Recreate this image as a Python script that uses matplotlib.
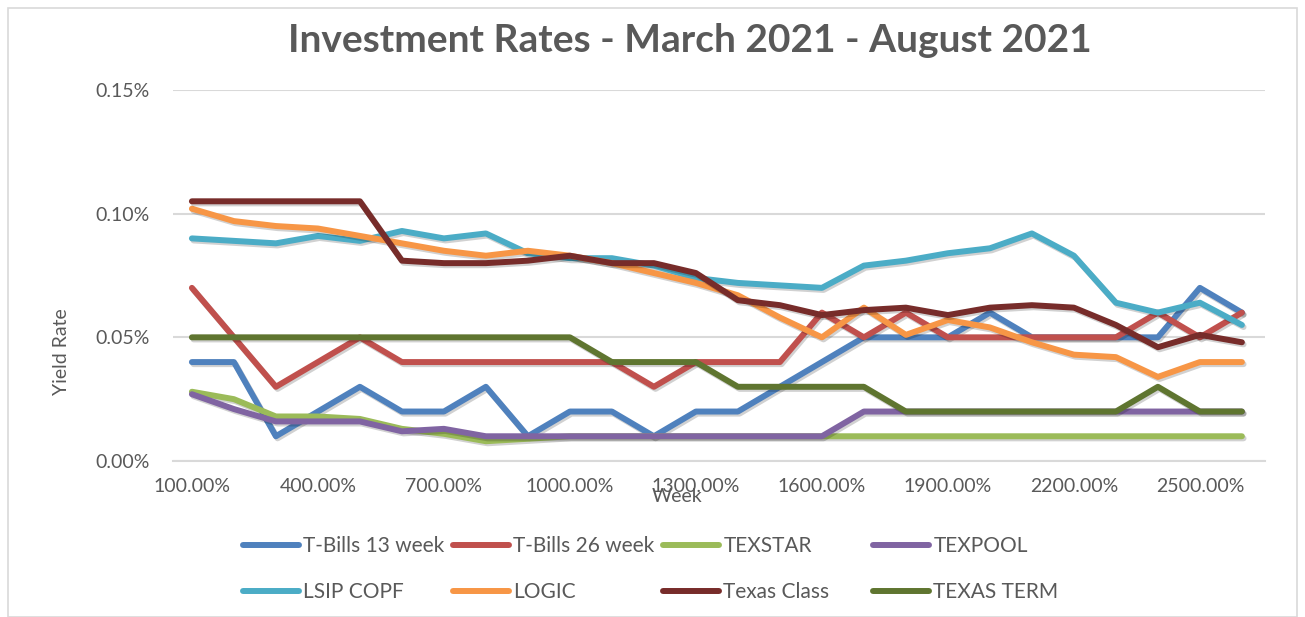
import matplotlib
matplotlib.use("Agg")
import matplotlib.pyplot as plt
from matplotlib.lines import Line2D
from matplotlib.patches import Rectangle
from matplotlib.ticker import FuncFormatter, FixedLocator
import matplotlib.patheffects as pe

plt.rcParams['font.family'] = ['Lato', 'DejaVu Sans']

weeks = list(range(1, 27))

tbills13 = [0.040, 0.040, 0.010, 0.020, 0.030, 0.020, 0.020, 0.030, 0.010, 0.020,
            0.020, 0.010, 0.020, 0.020, 0.030, 0.040, 0.050, 0.050, 0.050, 0.060,
            0.050, 0.050, 0.050, 0.050, 0.070, 0.060]
tbills26 = [0.070, 0.050, 0.030, 0.040, 0.050, 0.040, 0.040, 0.040, 0.040, 0.040,
            0.040, 0.030, 0.040, 0.040, 0.040, 0.060, 0.050, 0.060, 0.050, 0.050,
            0.050, 0.050, 0.050, 0.060, 0.050, 0.060]
texstar = [0.028, 0.025, 0.018, 0.018, 0.017, 0.013, 0.011, 0.008, 0.009, 0.010,
           0.010, 0.010, 0.010, 0.010, 0.010, 0.010, 0.010, 0.010, 0.010, 0.010,
           0.010, 0.010, 0.010, 0.010, 0.010, 0.010]
texpool = [0.027, 0.021, 0.016, 0.016, 0.016, 0.012, 0.013, 0.010, 0.010, 0.010,
           0.010, 0.010, 0.010, 0.010, 0.010, 0.010, 0.020, 0.020, 0.020, 0.020,
           0.020, 0.020, 0.020, 0.020, 0.020, 0.020]
lsip = [0.090, 0.089, 0.088, 0.091, 0.089, 0.093, 0.090, 0.092, 0.084, 0.082,
        0.082, 0.079, 0.074, 0.072, 0.071, 0.070, 0.079, 0.081, 0.084, 0.086,
        0.092, 0.083, 0.064, 0.060, 0.064, 0.055]
logic = [0.102, 0.097, 0.095, 0.094, 0.091, 0.088, 0.085, 0.083, 0.085, 0.083,
         0.080, 0.076, 0.072, 0.067, 0.058, 0.050, 0.062, 0.051, 0.057, 0.054,
         0.048, 0.043, 0.042, 0.034, 0.040, 0.040]
texas_class = [0.105, 0.105, 0.105, 0.105, 0.105, 0.081, 0.080, 0.080, 0.081, 0.083,
               0.080, 0.080, 0.076, 0.065, 0.063, 0.059, 0.061, 0.062, 0.059, 0.062,
               0.063, 0.062, 0.055, 0.046, 0.051, 0.048]
texas_term = [0.050, 0.050, 0.050, 0.050, 0.050, 0.050, 0.050, 0.050, 0.050, 0.050,
              0.040, 0.040, 0.040, 0.030, 0.030, 0.030, 0.030, 0.020, 0.020, 0.020,
              0.020, 0.020, 0.020, 0.030, 0.020, 0.020]

series_names = ["T-Bills 13 week", "T-Bills 26 week", "TEXSTAR", "TEXPOOL",
                "LSIP COPF", "LOGIC", "Texas Class", "TEXAS TERM"]
series_values = [tbills13, tbills26, texstar, texpool, lsip, logic, texas_class, texas_term]
colors = ["#4F81BD", "#C0504D", "#9BBB59", "#8064A2",
          "#4BACC6", "#F79646", "#772C2A", "#5F7530"]

title = "Investment Rates - March 2021 - August 2021"
y_ticks = [0.0, 0.05, 0.10, 0.15]
x_ticks = [1, 4, 7, 10, 13, 16, 19, 22, 25]

W, H = 1305, 617
fig = plt.figure(figsize=(W / 100, H / 100), dpi=100)
ax = fig.add_axes([173 / W, 1 - 461 / H, (1265 - 173) / W, (461 - 90) / H])

shadow = [pe.SimpleLineShadow(offset=(1.2, -1.5), shadow_color='black', alpha=0.18), pe.Normal()]
lw = 4.3
for name, vals, c in zip(series_names, series_values, colors):
    ax.plot(weeks, vals, color=c, lw=lw, solid_capstyle='round', solid_joinstyle='round',
            path_effects=shadow, zorder=3)

ax.set_xlim(0.55, 26.55)
ax.set_ylim(0, 0.15)
ax.yaxis.set_major_locator(FixedLocator(y_ticks))
ax.xaxis.set_major_locator(FixedLocator(x_ticks))
ax.yaxis.set_major_formatter(FuncFormatter(lambda v, p: f"{v:.2f}%"))
ax.xaxis.set_major_formatter(FuncFormatter(lambda v, p: f"{v * 100:.2f}%"))
ax.grid(axis='y', color='#D9D9D9', lw=1.5, zorder=0)
for s in ['top', 'right', 'left']:
    ax.spines[s].set_visible(False)
ax.spines['bottom'].set_color('#D9D9D9')
ax.spines['bottom'].set_linewidth(1.5)
ax.tick_params(axis='both', length=0, labelsize=14, labelcolor='#595959')
ax.tick_params(axis='x', pad=12)
ax.tick_params(axis='y', pad=17)

fig.text(690 / W, 1 - 41 / H, title, ha='center', va='center', fontsize=28,
         fontweight='bold', color='#595959')
fig.text(677 / W, 1 - 497 / H, "Week", ha='center', va='center', fontsize=14, color='#595959')
fig.text(62 / W, 1 - 352 / H, "Yield Rate", ha='center', va='center', rotation=90,
         fontsize=14, color='#595959')

# chart border
fig.patches.append(Rectangle((8 / W, 0), (1297 - 8) / W, 1 - 8 / H, transform=fig.transFigure,
                             fill=False, edgecolor='#D9D9D9', lw=1.2))

col_x = [243, 453, 663, 873]
for ci in range(4):
    handles = []
    labels = []
    for ri in range(2):
        idx = ri * 4 + ci
        handles.append(Line2D([0], [0], color=colors[idx], lw=lw, solid_capstyle='round'))
        labels.append(series_names[idx])
    fig.legend(handles, labels, loc='upper left', bbox_to_anchor=(col_x[ci] / W, 1 - 536 / H),
               frameon=False, fontsize=15, handlelength=2.7, handletextpad=0.2,
               labelspacing=1.25, borderpad=0, borderaxespad=0, labelcolor='#595959')

fig.savefig("out.png", dpi=100)
